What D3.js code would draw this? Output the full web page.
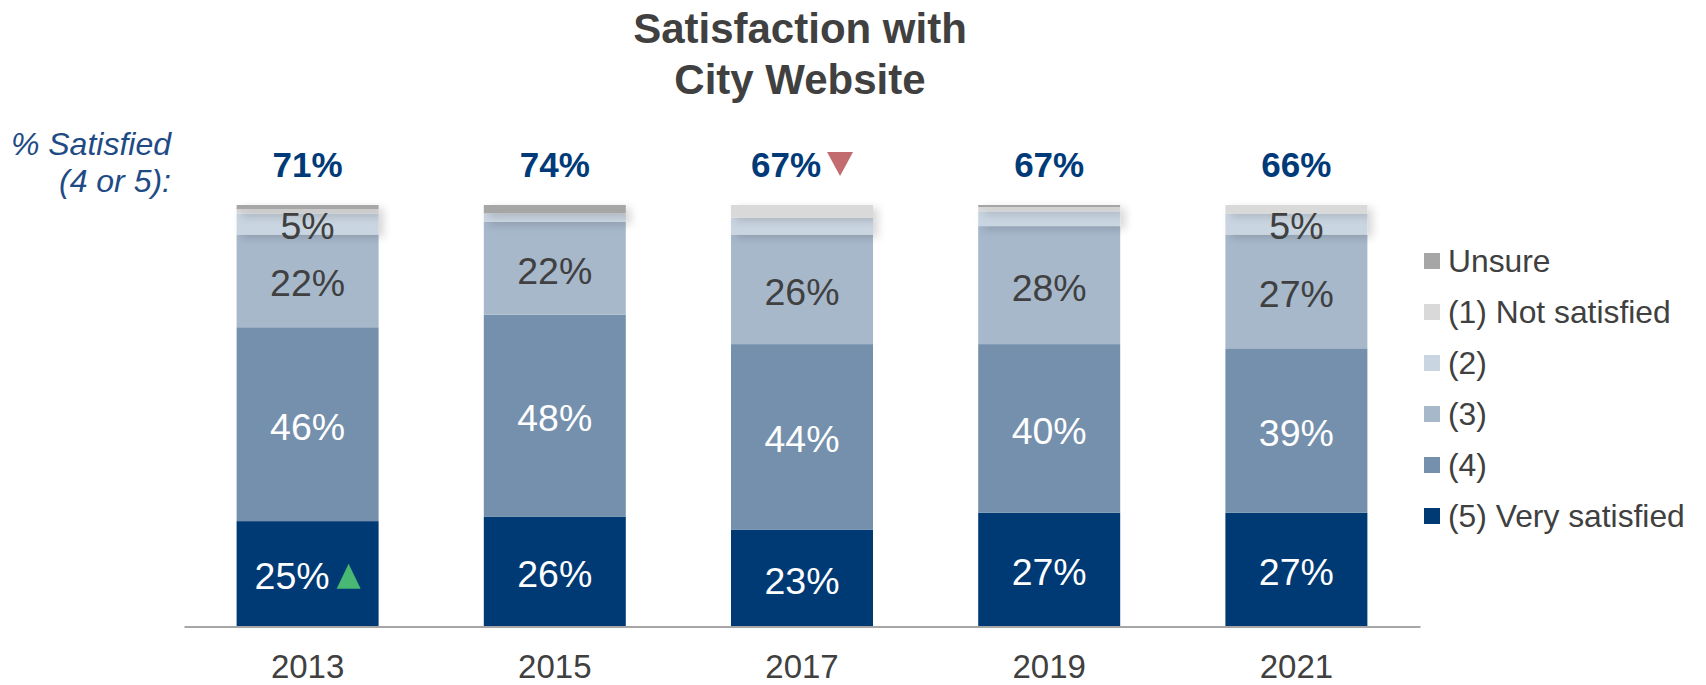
<!DOCTYPE html>
<html>
<head>
<meta charset="utf-8">
<script src="https://cdn.jsdelivr.net/npm/d3@7"></script>
<style>
  body { margin: 0; background: #fff; }
  svg { display: block; font-family: "Liberation Sans", Arial, sans-serif; }
</style>
</head>
<body>
<svg id="chart" width="1706" height="685"></svg>
<script>
// Survey waves
const years = ["2013", "2015", "2017", "2019", "2021"];

// Share of respondents per rating (percent)
const verySatisfied = [25, 26, 23, 27, 27];
const rating4 = [46, 48, 44, 40, 39];
const rating3 = [22, 22, 26, 28, 27];
const rating2 = [5, 2, 4, 3.5, 5];
const notSatisfied = [1, 0, 3, 1, 2];
const unsure = [1, 2, 0, 0.5, 0];

// Combined "4 or 5" share shown above each bar
const pctSatisfied = [71, 74, 67, 67, 66];

// Significant changes vs. previous wave
const verySatisfiedChange = ["up", null, null, null, null];
const pctSatisfiedChange = [null, null, "down", null, null];

const seriesNames = ["(5) Very satisfied", "(4)", "(3)", "(2)", "(1) Not satisfied", "Unsure"];
const seriesValues = [verySatisfied, rating4, rating3, rating2, notSatisfied, unsure];
const seriesColors = ["#003a74", "#7590ad", "#a7b8cb", "#c9d5e1", "#d9d9d9", "#a6a6a6"];
const labelColors = ["#ffffff", "#ffffff", "#404040", "#404040", null, null];

const svg = d3.select("#chart");

const x = d3.scaleBand()
  .domain(years)
  .range([184, 1420])
  .paddingInner(0.4256)
  .paddingOuter(0.2128);

const y = d3.scaleLinear().domain([0, 100]).range([626.5, 205]);

const rows = years.map((yr, i) => {
  const r = { year: yr };
  seriesNames.forEach((k, j) => { r[k] = seriesValues[j][i]; });
  return r;
});
const stacked = d3.stack().keys(seriesNames)(rows);

// soft shadow under the thin top segments
const defs = svg.append("defs");
const f = defs.append("filter").attr("id", "topShadow")
  .attr("x", "-10%").attr("y", "-50%").attr("width", "130%").attr("height", "250%");
f.append("feDropShadow").attr("dx", 5).attr("dy", 3).attr("stdDeviation", 4)
  .attr("flood-color", "#000").attr("flood-opacity", 0.16);

// title
const title = svg.append("text")
  .attr("x", 800).attr("text-anchor", "middle")
  .attr("font-size", 42).attr("font-weight", "bold").attr("fill", "#404040");
title.append("tspan").attr("x", 800).attr("y", 43).text("Satisfaction with");
title.append("tspan").attr("x", 800).attr("y", 94).text("City Website");

// bars
const layers = svg.append("g").selectAll("g")
  .data(stacked)
  .join("g")
  .attr("fill", (d, j) => seriesColors[j])
  .attr("filter", (d, j) => j >= 3 ? "url(#topShadow)" : null);

layers.selectAll("rect")
  .data(d => d)
  .join("rect")
  .attr("x", d => x(d.data.year))
  .attr("width", x.bandwidth())
  .attr("y", d => y(d[1]))
  .attr("height", d => Math.max(0, y(d[0]) - y(d[1])));

// triangle marker path
function triangle(cx, baseY, dir, w, h) {
  const p = d3.path();
  if (dir === "up") {
    p.moveTo(cx, baseY - h); p.lineTo(cx + w / 2, baseY); p.lineTo(cx - w / 2, baseY);
  } else {
    p.moveTo(cx - w / 2, baseY - h); p.lineTo(cx + w / 2, baseY - h); p.lineTo(cx, baseY);
  }
  p.closePath();
  return p.toString();
}
const markColor = { up: "#47b974", down: "#c26c70" };

// segment labels
const labelG = svg.append("g").attr("font-size", 37.5);
stacked.forEach((layer, j) => {
  if (!labelColors[j]) return;
  layer.forEach((d, i) => {
    const v = d[1] - d[0];
    if (j === 3 && v < 5) return;
    const cx = x.bandwidth() / 2 + x(d.data.year);
    const cy = (y(d[0]) + y(d[1])) / 2;
    const t = labelG.append("text")
      .attr("fill", labelColors[j])
      .attr("text-anchor", "middle")
      .attr("x", cx).attr("y", cy + 15.5)
      .text(v + "%");
    if (j === 0 && verySatisfiedChange[i]) {
      const w = t.node().getComputedTextLength();
      const gap = 7, tw = 24, total = w + gap + tw;
      const left = cx - total / 2;
      t.attr("text-anchor", "start").attr("x", left);
      labelG.append("path")
        .attr("d", triangle(left + w + gap + tw / 2, cy + 15, verySatisfiedChange[i], tw, 25))
        .attr("fill", markColor[verySatisfiedChange[i]]);
    }
  });
});

// "% Satisfied" header and totals
const side = svg.append("text")
  .attr("text-anchor", "end").attr("font-size", 32)
  .attr("font-style", "italic").attr("fill", "#1f4b85");
side.append("tspan").attr("x", 171).attr("y", 155).text("% Satisfied");
side.append("tspan").attr("x", 171).attr("y", 192).text("(4 or 5):");

const totalG = svg.append("g")
  .attr("font-size", 35).attr("font-weight", "bold").attr("fill", "#003a78");
years.forEach((yr, i) => {
  const cx = x(yr) + x.bandwidth() / 2;
  const t = totalG.append("text").attr("x", cx).attr("y", 177)
    .attr("text-anchor", "middle").text(pctSatisfied[i] + "%");
  if (pctSatisfiedChange[i]) {
    const w = t.node().getComputedTextLength();
    const gap = 6, tw = 26, total = w + gap + tw;
    const left = cx - total / 2;
    t.attr("text-anchor", "start").attr("x", left);
    totalG.append("path")
      .attr("d", triangle(left + w + gap + tw / 2, 176, pctSatisfiedChange[i], tw, 24))
      .attr("fill", markColor[pctSatisfiedChange[i]]);
  }
});

// category axis
const axis = svg.append("g")
  .attr("transform", `translate(0,${y(0)})`)
  .call(d3.axisBottom(x).tickSize(0).tickPadding(28));
axis.select(".domain").attr("stroke", "#a6a6a6").attr("stroke-width", 2);
axis.selectAll("text")
  .attr("font-size", 33)
  .attr("font-family", "'Liberation Sans', Arial, sans-serif")
  .attr("fill", "#404040");

// legend
const legend = svg.append("g");
const legendOrder = seriesNames.map((n, j) => j).reverse();
legendOrder.forEach((j, k) => {
  const cy = 261 + k * 51;
  legend.append("rect").attr("x", 1424).attr("y", cy - 8)
    .attr("width", 16).attr("height", 16).attr("fill", seriesColors[j]);
  legend.append("text").attr("x", 1448).attr("y", cy + 11)
    .attr("font-size", 31.8).attr("fill", "#404040").text(seriesNames[j]);
});
</script>
</body>
</html>
